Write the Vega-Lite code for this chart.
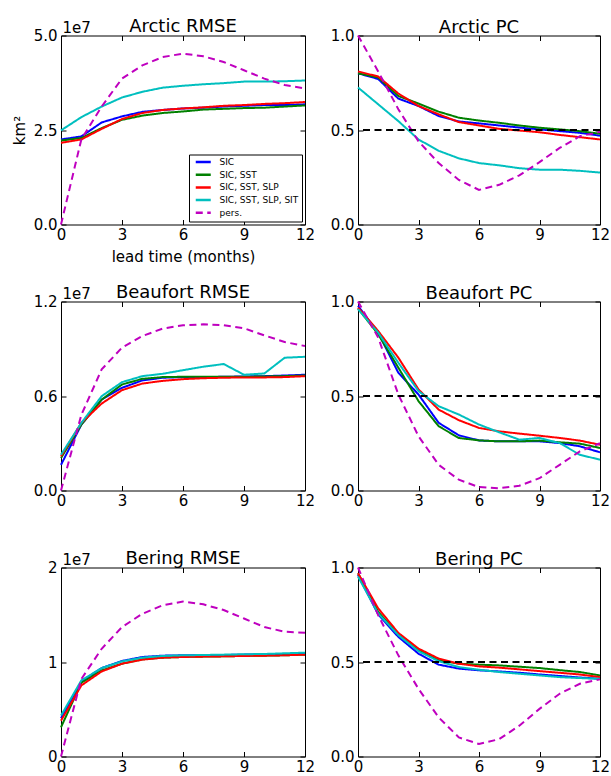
{
"$schema":"https://vega.github.io/schema/vega-lite/v6.json",
"background":"white",
"padding":{"left":12,"top":17.5,"right":5,"bottom":2},
"datasets":{
"ref":[{"level":0.5}],
"arctic_rmse":[
{"series":"SIC","lead":0,"value":2.25e7},{"series":"SIC","lead":1,"value":2.33e7},{"series":"SIC","lead":2,"value":2.70e7},{"series":"SIC","lead":3,"value":2.86e7},{"series":"SIC","lead":4,"value":2.98e7},{"series":"SIC","lead":5,"value":3.03e7},{"series":"SIC","lead":6,"value":3.07e7},{"series":"SIC","lead":7,"value":3.09e7},{"series":"SIC","lead":8,"value":3.12e7},{"series":"SIC","lead":9,"value":3.14e7},{"series":"SIC","lead":10,"value":3.16e7},{"series":"SIC","lead":11,"value":3.16e7},{"series":"SIC","lead":12,"value":3.18e7},
{"series":"SIC, SST","lead":0,"value":2.22e7},{"series":"SIC, SST","lead":1,"value":2.29e7},{"series":"SIC, SST","lead":2,"value":2.55e7},{"series":"SIC, SST","lead":3,"value":2.77e7},{"series":"SIC, SST","lead":4,"value":2.88e7},{"series":"SIC, SST","lead":5,"value":2.95e7},{"series":"SIC, SST","lead":6,"value":2.99e7},{"series":"SIC, SST","lead":7,"value":3.04e7},{"series":"SIC, SST","lead":8,"value":3.06e7},{"series":"SIC, SST","lead":9,"value":3.08e7},{"series":"SIC, SST","lead":10,"value":3.09e7},{"series":"SIC, SST","lead":11,"value":3.12e7},{"series":"SIC, SST","lead":12,"value":3.15e7},
{"series":"SIC, SST, SLP","lead":0,"value":2.16e7},{"series":"SIC, SST, SLP","lead":1,"value":2.25e7},{"series":"SIC, SST, SLP","lead":2,"value":2.53e7},{"series":"SIC, SST, SLP","lead":3,"value":2.79e7},{"series":"SIC, SST, SLP","lead":4,"value":2.95e7},{"series":"SIC, SST, SLP","lead":5,"value":3.03e7},{"series":"SIC, SST, SLP","lead":6,"value":3.07e7},{"series":"SIC, SST, SLP","lead":7,"value":3.10e7},{"series":"SIC, SST, SLP","lead":8,"value":3.14e7},{"series":"SIC, SST, SLP","lead":9,"value":3.16e7},{"series":"SIC, SST, SLP","lead":10,"value":3.19e7},{"series":"SIC, SST, SLP","lead":11,"value":3.21e7},{"series":"SIC, SST, SLP","lead":12,"value":3.24e7},
{"series":"SIC, SST, SLP, SIT","lead":0,"value":2.49e7},{"series":"SIC, SST, SLP, SIT","lead":1,"value":2.84e7},{"series":"SIC, SST, SLP, SIT","lead":2,"value":3.12e7},{"series":"SIC, SST, SLP, SIT","lead":3,"value":3.36e7},{"series":"SIC, SST, SLP, SIT","lead":4,"value":3.51e7},{"series":"SIC, SST, SLP, SIT","lead":5,"value":3.62e7},{"series":"SIC, SST, SLP, SIT","lead":6,"value":3.67e7},{"series":"SIC, SST, SLP, SIT","lead":7,"value":3.71e7},{"series":"SIC, SST, SLP, SIT","lead":8,"value":3.74e7},{"series":"SIC, SST, SLP, SIT","lead":9,"value":3.78e7},{"series":"SIC, SST, SLP, SIT","lead":10,"value":3.78e7},{"series":"SIC, SST, SLP, SIT","lead":11,"value":3.79e7},{"series":"SIC, SST, SLP, SIT","lead":12,"value":3.81e7},
{"series":"pers.","lead":0,"value":0},{"series":"pers.","lead":1,"value":2.25e7},{"series":"pers.","lead":2,"value":3.12e7},{"series":"pers.","lead":3,"value":3.86e7},{"series":"pers.","lead":4,"value":4.21e7},{"series":"pers.","lead":5,"value":4.43e7},{"series":"pers.","lead":6,"value":4.52e7},{"series":"pers.","lead":7,"value":4.45e7},{"series":"pers.","lead":8,"value":4.30e7},{"series":"pers.","lead":9,"value":4.08e7},{"series":"pers.","lead":10,"value":3.86e7},{"series":"pers.","lead":11,"value":3.69e7},{"series":"pers.","lead":12,"value":3.60e7}
],
"arctic_pc":[
{"series":"SIC","lead":0,"value":0.80},{"series":"SIC","lead":1,"value":0.77},{"series":"SIC","lead":2,"value":0.666},{"series":"SIC","lead":3,"value":0.627},{"series":"SIC","lead":4,"value":0.574},{"series":"SIC","lead":5,"value":0.545},{"series":"SIC","lead":6,"value":0.535},{"series":"SIC","lead":7,"value":0.524},{"series":"SIC","lead":8,"value":0.513},{"series":"SIC","lead":9,"value":0.503},{"series":"SIC","lead":10,"value":0.494},{"series":"SIC","lead":11,"value":0.485},{"series":"SIC","lead":12,"value":0.47},
{"series":"SIC, SST","lead":0,"value":0.80},{"series":"SIC, SST","lead":1,"value":0.778},{"series":"SIC, SST","lead":2,"value":0.68},{"series":"SIC, SST","lead":3,"value":0.64},{"series":"SIC, SST","lead":4,"value":0.597},{"series":"SIC, SST","lead":5,"value":0.565},{"series":"SIC, SST","lead":6,"value":0.55},{"series":"SIC, SST","lead":7,"value":0.538},{"series":"SIC, SST","lead":8,"value":0.524},{"series":"SIC, SST","lead":9,"value":0.512},{"series":"SIC, SST","lead":10,"value":0.503},{"series":"SIC, SST","lead":11,"value":0.494},{"series":"SIC, SST","lead":12,"value":0.48},
{"series":"SIC, SST, SLP","lead":0,"value":0.81},{"series":"SIC, SST, SLP","lead":1,"value":0.783},{"series":"SIC, SST, SLP","lead":2,"value":0.693},{"series":"SIC, SST, SLP","lead":3,"value":0.627},{"series":"SIC, SST, SLP","lead":4,"value":0.583},{"series":"SIC, SST, SLP","lead":5,"value":0.542},{"series":"SIC, SST, SLP","lead":6,"value":0.524},{"series":"SIC, SST, SLP","lead":7,"value":0.506},{"series":"SIC, SST, SLP","lead":8,"value":0.497},{"series":"SIC, SST, SLP","lead":9,"value":0.488},{"series":"SIC, SST, SLP","lead":10,"value":0.474},{"series":"SIC, SST, SLP","lead":11,"value":0.462},{"series":"SIC, SST, SLP","lead":12,"value":0.45},
{"series":"SIC, SST, SLP, SIT","lead":0,"value":0.725},{"series":"SIC, SST, SLP, SIT","lead":1,"value":0.636},{"series":"SIC, SST, SLP, SIT","lead":2,"value":0.547},{"series":"SIC, SST, SLP, SIT","lead":3,"value":0.45},{"series":"SIC, SST, SLP, SIT","lead":4,"value":0.39},{"series":"SIC, SST, SLP, SIT","lead":5,"value":0.35},{"series":"SIC, SST, SLP, SIT","lead":6,"value":0.325},{"series":"SIC, SST, SLP, SIT","lead":7,"value":0.313},{"series":"SIC, SST, SLP, SIT","lead":8,"value":0.298},{"series":"SIC, SST, SLP, SIT","lead":9,"value":0.29},{"series":"SIC, SST, SLP, SIT","lead":10,"value":0.29},{"series":"SIC, SST, SLP, SIT","lead":11,"value":0.284},{"series":"SIC, SST, SLP, SIT","lead":12,"value":0.275},
{"series":"pers.","lead":0,"value":1.0},{"series":"pers.","lead":1,"value":0.81},{"series":"pers.","lead":2,"value":0.61},{"series":"pers.","lead":3,"value":0.44},{"series":"pers.","lead":4,"value":0.325},{"series":"pers.","lead":5,"value":0.236},{"series":"pers.","lead":6,"value":0.183},{"series":"pers.","lead":7,"value":0.21},{"series":"pers.","lead":8,"value":0.26},{"series":"pers.","lead":9,"value":0.33},{"series":"pers.","lead":10,"value":0.405},{"series":"pers.","lead":11,"value":0.467},{"series":"pers.","lead":12,"value":0.49}
],
"beaufort_rmse":[
{"series":"SIC","lead":0,"value":1.63e6},{"series":"SIC","lead":1,"value":4.18e6},{"series":"SIC","lead":2,"value":5.77e6},{"series":"SIC","lead":3,"value":6.52e6},{"series":"SIC","lead":4,"value":6.99e6},{"series":"SIC","lead":5,"value":7.16e6},{"series":"SIC","lead":6,"value":7.20e6},{"series":"SIC","lead":7,"value":7.20e6},{"series":"SIC","lead":8,"value":7.22e6},{"series":"SIC","lead":9,"value":7.24e6},{"series":"SIC","lead":10,"value":7.26e6},{"series":"SIC","lead":11,"value":7.30e6},{"series":"SIC","lead":12,"value":7.35e6},
{"series":"SIC, SST","lead":0,"value":2.06e6},{"series":"SIC, SST","lead":1,"value":4.18e6},{"series":"SIC, SST","lead":2,"value":5.77e6},{"series":"SIC, SST","lead":3,"value":6.73e6},{"series":"SIC, SST","lead":4,"value":7.09e6},{"series":"SIC, SST","lead":5,"value":7.20e6},{"series":"SIC, SST","lead":6,"value":7.22e6},{"series":"SIC, SST","lead":7,"value":7.22e6},{"series":"SIC, SST","lead":8,"value":7.22e6},{"series":"SIC, SST","lead":9,"value":7.22e6},{"series":"SIC, SST","lead":10,"value":7.24e6},{"series":"SIC, SST","lead":11,"value":7.26e6},{"series":"SIC, SST","lead":12,"value":7.30e6},
{"series":"SIC, SST, SLP","lead":0,"value":2.17e6},{"series":"SIC, SST, SLP","lead":1,"value":4.29e6},{"series":"SIC, SST, SLP","lead":2,"value":5.52e6},{"series":"SIC, SST, SLP","lead":3,"value":6.37e6},{"series":"SIC, SST, SLP","lead":4,"value":6.79e6},{"series":"SIC, SST, SLP","lead":5,"value":6.96e6},{"series":"SIC, SST, SLP","lead":6,"value":7.07e6},{"series":"SIC, SST, SLP","lead":7,"value":7.13e6},{"series":"SIC, SST, SLP","lead":8,"value":7.16e6},{"series":"SIC, SST, SLP","lead":9,"value":7.18e6},{"series":"SIC, SST, SLP","lead":10,"value":7.18e6},{"series":"SIC, SST, SLP","lead":11,"value":7.20e6},{"series":"SIC, SST, SLP","lead":12,"value":7.26e6},
{"series":"SIC, SST, SLP, SIT","lead":0,"value":2.27e6},{"series":"SIC, SST, SLP, SIT","lead":1,"value":4.29e6},{"series":"SIC, SST, SLP, SIT","lead":2,"value":5.99e6},{"series":"SIC, SST, SLP, SIT","lead":3,"value":6.88e6},{"series":"SIC, SST, SLP, SIT","lead":4,"value":7.26e6},{"series":"SIC, SST, SLP, SIT","lead":5,"value":7.41e6},{"series":"SIC, SST, SLP, SIT","lead":6,"value":7.64e6},{"series":"SIC, SST, SLP, SIT","lead":7,"value":7.86e6},{"series":"SIC, SST, SLP, SIT","lead":8,"value":8.03e6},{"series":"SIC, SST, SLP, SIT","lead":9,"value":7.35e6},{"series":"SIC, SST, SLP, SIT","lead":10,"value":7.43e6},{"series":"SIC, SST, SLP, SIT","lead":11,"value":8.43e6},{"series":"SIC, SST, SLP, SIT","lead":12,"value":8.49e6},
{"series":"pers.","lead":0,"value":0},{"series":"pers.","lead":1,"value":4.8e6},{"series":"pers.","lead":2,"value":7.69e6},{"series":"pers.","lead":3,"value":9.07e6},{"series":"pers.","lead":4,"value":9.81e6},{"series":"pers.","lead":5,"value":10.28e6},{"series":"pers.","lead":6,"value":10.49e6},{"series":"pers.","lead":7,"value":10.55e6},{"series":"pers.","lead":8,"value":10.49e6},{"series":"pers.","lead":9,"value":10.30e6},{"series":"pers.","lead":10,"value":9.85e6},{"series":"pers.","lead":11,"value":9.43e6},{"series":"pers.","lead":12,"value":9.17e6}
],
"beaufort_pc":[
{"series":"SIC","lead":0,"value":0.977},{"series":"SIC","lead":1,"value":0.835},{"series":"SIC","lead":2,"value":0.623},{"series":"SIC","lead":3,"value":0.508},{"series":"SIC","lead":4,"value":0.358},{"series":"SIC","lead":5,"value":0.292},{"series":"SIC","lead":6,"value":0.265},{"series":"SIC","lead":7,"value":0.26},{"series":"SIC","lead":8,"value":0.26},{"series":"SIC","lead":9,"value":0.26},{"series":"SIC","lead":10,"value":0.251},{"series":"SIC","lead":11,"value":0.234},{"series":"SIC","lead":12,"value":0.202},
{"series":"SIC, SST","lead":0,"value":0.963},{"series":"SIC, SST","lead":1,"value":0.827},{"series":"SIC, SST","lead":2,"value":0.65},{"series":"SIC, SST","lead":3,"value":0.473},{"series":"SIC, SST","lead":4,"value":0.34},{"series":"SIC, SST","lead":5,"value":0.278},{"series":"SIC, SST","lead":6,"value":0.265},{"series":"SIC, SST","lead":7,"value":0.26},{"series":"SIC, SST","lead":8,"value":0.26},{"series":"SIC, SST","lead":9,"value":0.264},{"series":"SIC, SST","lead":10,"value":0.255},{"series":"SIC, SST","lead":11,"value":0.248},{"series":"SIC, SST","lead":12,"value":0.225},
{"series":"SIC, SST, SLP","lead":0,"value":0.968},{"series":"SIC, SST, SLP","lead":1,"value":0.844},{"series":"SIC, SST, SLP","lead":2,"value":0.703},{"series":"SIC, SST, SLP","lead":3,"value":0.535},{"series":"SIC, SST, SLP","lead":4,"value":0.428},{"series":"SIC, SST, SLP","lead":5,"value":0.372},{"series":"SIC, SST, SLP","lead":6,"value":0.331},{"series":"SIC, SST, SLP","lead":7,"value":0.313},{"series":"SIC, SST, SLP","lead":8,"value":0.301},{"series":"SIC, SST, SLP","lead":9,"value":0.29},{"series":"SIC, SST, SLP","lead":10,"value":0.278},{"series":"SIC, SST, SLP","lead":11,"value":0.264},{"series":"SIC, SST, SLP","lead":12,"value":0.242},
{"series":"SIC, SST, SLP, SIT","lead":0,"value":0.96},{"series":"SIC, SST, SLP, SIT","lead":1,"value":0.835},{"series":"SIC, SST, SLP, SIT","lead":2,"value":0.676},{"series":"SIC, SST, SLP, SIT","lead":3,"value":0.526},{"series":"SIC, SST, SLP, SIT","lead":4,"value":0.446},{"series":"SIC, SST, SLP, SIT","lead":5,"value":0.402},{"series":"SIC, SST, SLP, SIT","lead":6,"value":0.349},{"series":"SIC, SST, SLP, SIT","lead":7,"value":0.308},{"series":"SIC, SST, SLP, SIT","lead":8,"value":0.269},{"series":"SIC, SST, SLP, SIT","lead":9,"value":0.278},{"series":"SIC, SST, SLP, SIT","lead":10,"value":0.251},{"series":"SIC, SST, SLP, SIT","lead":11,"value":0.189},{"series":"SIC, SST, SLP, SIT","lead":12,"value":0.163},
{"series":"pers.","lead":0,"value":1.0},{"series":"pers.","lead":1,"value":0.81},{"series":"pers.","lead":2,"value":0.508},{"series":"pers.","lead":3,"value":0.287},{"series":"pers.","lead":4,"value":0.136},{"series":"pers.","lead":5,"value":0.057},{"series":"pers.","lead":6,"value":0.018},{"series":"pers.","lead":7,"value":0.012},{"series":"pers.","lead":8,"value":0.025},{"series":"pers.","lead":9,"value":0.065},{"series":"pers.","lead":10,"value":0.136},{"series":"pers.","lead":11,"value":0.207},{"series":"pers.","lead":12,"value":0.25}
],
"bering_rmse":[
{"series":"SIC","lead":0,"value":4.04e6},{"series":"SIC","lead":1,"value":7.94e6},{"series":"SIC","lead":2,"value":9.36e6},{"series":"SIC","lead":3,"value":10.11e6},{"series":"SIC","lead":4,"value":10.53e6},{"series":"SIC","lead":5,"value":10.67e6},{"series":"SIC","lead":6,"value":10.71e6},{"series":"SIC","lead":7,"value":10.71e6},{"series":"SIC","lead":8,"value":10.74e6},{"series":"SIC","lead":9,"value":10.78e6},{"series":"SIC","lead":10,"value":10.82e6},{"series":"SIC","lead":11,"value":10.85e6},{"series":"SIC","lead":12,"value":10.89e6},
{"series":"SIC, SST","lead":0,"value":3.09e6},{"series":"SIC, SST","lead":1,"value":7.80e6},{"series":"SIC, SST","lead":2,"value":9.11e6},{"series":"SIC, SST","lead":3,"value":9.82e6},{"series":"SIC, SST","lead":4,"value":10.28e6},{"series":"SIC, SST","lead":5,"value":10.46e6},{"series":"SIC, SST","lead":6,"value":10.53e6},{"series":"SIC, SST","lead":7,"value":10.57e6},{"series":"SIC, SST","lead":8,"value":10.60e6},{"series":"SIC, SST","lead":9,"value":10.64e6},{"series":"SIC, SST","lead":10,"value":10.67e6},{"series":"SIC, SST","lead":11,"value":10.71e6},{"series":"SIC, SST","lead":12,"value":10.78e6},
{"series":"SIC, SST, SLP","lead":0,"value":3.79e6},{"series":"SIC, SST, SLP","lead":1,"value":7.52e6},{"series":"SIC, SST, SLP","lead":2,"value":9.00e6},{"series":"SIC, SST, SLP","lead":3,"value":9.82e6},{"series":"SIC, SST, SLP","lead":4,"value":10.25e6},{"series":"SIC, SST, SLP","lead":5,"value":10.46e6},{"series":"SIC, SST, SLP","lead":6,"value":10.53e6},{"series":"SIC, SST, SLP","lead":7,"value":10.57e6},{"series":"SIC, SST, SLP","lead":8,"value":10.60e6},{"series":"SIC, SST, SLP","lead":9,"value":10.64e6},{"series":"SIC, SST, SLP","lead":10,"value":10.67e6},{"series":"SIC, SST, SLP","lead":11,"value":10.71e6},{"series":"SIC, SST, SLP","lead":12,"value":10.78e6},
{"series":"SIC, SST, SLP, SIT","lead":0,"value":4.33e6},{"series":"SIC, SST, SLP, SIT","lead":1,"value":8.05e6},{"series":"SIC, SST, SLP, SIT","lead":2,"value":9.36e6},{"series":"SIC, SST, SLP, SIT","lead":3,"value":10.07e6},{"series":"SIC, SST, SLP, SIT","lead":4,"value":10.46e6},{"series":"SIC, SST, SLP, SIT","lead":5,"value":10.64e6},{"series":"SIC, SST, SLP, SIT","lead":6,"value":10.71e6},{"series":"SIC, SST, SLP, SIT","lead":7,"value":10.74e6},{"series":"SIC, SST, SLP, SIT","lead":8,"value":10.78e6},{"series":"SIC, SST, SLP, SIT","lead":9,"value":10.82e6},{"series":"SIC, SST, SLP, SIT","lead":10,"value":10.85e6},{"series":"SIC, SST, SLP, SIT","lead":11,"value":10.92e6},{"series":"SIC, SST, SLP, SIT","lead":12,"value":10.99e6},
{"series":"pers.","lead":0,"value":0},{"series":"pers.","lead":1,"value":8.2e6},{"series":"pers.","lead":2,"value":11.4e6},{"series":"pers.","lead":3,"value":13.7e6},{"series":"pers.","lead":4,"value":15.1e6},{"series":"pers.","lead":5,"value":16.0e6},{"series":"pers.","lead":6,"value":16.4e6},{"series":"pers.","lead":7,"value":16.1e6},{"series":"pers.","lead":8,"value":15.5e6},{"series":"pers.","lead":9,"value":14.6e6},{"series":"pers.","lead":10,"value":13.7e6},{"series":"pers.","lead":11,"value":13.2e6},{"series":"pers.","lead":12,"value":13.1e6}
],
"bering_pc":[
{"series":"SIC","lead":0,"value":0.961},{"series":"SIC","lead":1,"value":0.752},{"series":"SIC","lead":2,"value":0.633},{"series":"SIC","lead":3,"value":0.544},{"series":"SIC","lead":4,"value":0.486},{"series":"SIC","lead":5,"value":0.465},{"series":"SIC","lead":6,"value":0.456},{"series":"SIC","lead":7,"value":0.45},{"series":"SIC","lead":8,"value":0.443},{"series":"SIC","lead":9,"value":0.434},{"series":"SIC","lead":10,"value":0.426},{"series":"SIC","lead":11,"value":0.418},{"series":"SIC","lead":12,"value":0.411},
{"series":"SIC, SST","lead":0,"value":0.97},{"series":"SIC, SST","lead":1,"value":0.766},{"series":"SIC, SST","lead":2,"value":0.645},{"series":"SIC, SST","lead":3,"value":0.562},{"series":"SIC, SST","lead":4,"value":0.509},{"series":"SIC, SST","lead":5,"value":0.491},{"series":"SIC, SST","lead":6,"value":0.486},{"series":"SIC, SST","lead":7,"value":0.482},{"series":"SIC, SST","lead":8,"value":0.475},{"series":"SIC, SST","lead":9,"value":0.468},{"series":"SIC, SST","lead":10,"value":0.457},{"series":"SIC, SST","lead":11,"value":0.447},{"series":"SIC, SST","lead":12,"value":0.429},
{"series":"SIC, SST, SLP","lead":0,"value":0.97},{"series":"SIC, SST, SLP","lead":1,"value":0.784},{"series":"SIC, SST, SLP","lead":2,"value":0.654},{"series":"SIC, SST, SLP","lead":3,"value":0.571},{"series":"SIC, SST, SLP","lead":4,"value":0.518},{"series":"SIC, SST, SLP","lead":5,"value":0.491},{"series":"SIC, SST, SLP","lead":6,"value":0.477},{"series":"SIC, SST, SLP","lead":7,"value":0.47},{"series":"SIC, SST, SLP","lead":8,"value":0.461},{"series":"SIC, SST, SLP","lead":9,"value":0.452},{"series":"SIC, SST, SLP","lead":10,"value":0.443},{"series":"SIC, SST, SLP","lead":11,"value":0.434},{"series":"SIC, SST, SLP","lead":12,"value":0.42},
{"series":"SIC, SST, SLP, SIT","lead":0,"value":0.952},{"series":"SIC, SST, SLP, SIT","lead":1,"value":0.757},{"series":"SIC, SST, SLP, SIT","lead":2,"value":0.642},{"series":"SIC, SST, SLP, SIT","lead":3,"value":0.557},{"series":"SIC, SST, SLP, SIT","lead":4,"value":0.504},{"series":"SIC, SST, SLP, SIT","lead":5,"value":0.473},{"series":"SIC, SST, SLP, SIT","lead":6,"value":0.459},{"series":"SIC, SST, SLP, SIT","lead":7,"value":0.447},{"series":"SIC, SST, SLP, SIT","lead":8,"value":0.438},{"series":"SIC, SST, SLP, SIT","lead":9,"value":0.429},{"series":"SIC, SST, SLP, SIT","lead":10,"value":0.42},{"series":"SIC, SST, SLP, SIT","lead":11,"value":0.415},{"series":"SIC, SST, SLP, SIT","lead":12,"value":0.411},
{"series":"pers.","lead":0,"value":1.0},{"series":"pers.","lead":1,"value":0.748},{"series":"pers.","lead":2,"value":0.535},{"series":"pers.","lead":3,"value":0.358},{"series":"pers.","lead":4,"value":0.207},{"series":"pers.","lead":5,"value":0.101},{"series":"pers.","lead":6,"value":0.066},{"series":"pers.","lead":7,"value":0.092},{"series":"pers.","lead":8,"value":0.163},{"series":"pers.","lead":9,"value":0.252},{"series":"pers.","lead":10,"value":0.332},{"series":"pers.","lead":11,"value":0.385},{"series":"pers.","lead":12,"value":0.408}
]
},
"columns":2,
"bounds":"flush",
"spacing":{"row":77,"column":53},
"resolve":{"scale":{"color":"independent","strokeDash":"independent"},"legend":{"color":"independent","strokeDash":"independent"}},
"concat":[
{"width":244,"height":189,"title":{"text":"Arctic RMSE","offset":-15},"data":{"name":"arctic_rmse"},
 "layer":[
 {"transform":[{"filter":"datum.series != 'pers.'"}],"mark":{"type":"line","strokeWidth":2},
  "encoding":{
  "x":{"field":"lead","type":"quantitative","scale":{"domain":[0,12],"nice":false},"axis":{"orient":"bottom","values":[0,3,6,9,12],"title":"lead time (months)","titlePadding":7}},
  "y":{"field":"value","type":"quantitative","scale":{"domain":[0,5e7],"nice":false},"axis":{"orient":"left","values":[0,2.5e7,5e7],"labelExpr":"format(datum.value/1e7,'.1f')","title":"km²","titlePadding":6}},
  "color":{"field":"series","type":"nominal","scale":{"domain":["SIC","SIC, SST","SIC, SST, SLP","SIC, SST, SLP, SIT","pers."],"range":["#0000ff","#008000","#ff0000","#00bfbf","#bf00bf"]}},
  "strokeDash":{"field":"series","type":"nominal","scale":{"domain":["SIC","SIC, SST","SIC, SST, SLP","SIC, SST, SLP, SIT","pers."],"range":[[1,0],[1,0],[1,0],[1,0],[7,4.5]]}}}},
 {"transform":[{"filter":"datum.series == 'pers.'"}],"mark":{"type":"line","strokeWidth":2},
  "encoding":{
  "x":{"field":"lead","type":"quantitative","axis":{"orient":"top","values":[0,3,6,9,12],"labels":false,"title":"1e7","titleX":1,"titleY":-3,"titleAlign":"left","titleBaseline":"alphabetic","titleAngle":0}},
  "y":{"field":"value","type":"quantitative","axis":{"orient":"right","values":[0,2.5e7,5e7],"labels":false,"title":null}},
  "color":{"field":"series","type":"nominal"},
  "strokeDash":{"field":"series","type":"nominal"}}}
 ],
 "resolve":{"axis":{"x":"independent","y":"independent"}}},
{"width":242,"height":189,"title":{"text":"Arctic PC","offset":-8},"data":{"name":"arctic_pc"},
 "layer":[
 {"transform":[{"filter":"datum.series != 'pers.'"}],"mark":{"type":"line","strokeWidth":2},
  "encoding":{
  "x":{"field":"lead","type":"quantitative","scale":{"domain":[0,12],"nice":false},"axis":{"orient":"bottom","values":[0,3,6,9,12],"title":null}},
  "y":{"field":"value","type":"quantitative","scale":{"domain":[0,1],"nice":false},"axis":{"orient":"left","values":[0,0.5,1],"format":".1f","title":null}},
  "color":{"field":"series","type":"nominal","legend":null,"scale":{"domain":["SIC","SIC, SST","SIC, SST, SLP","SIC, SST, SLP, SIT","pers."],"range":["#0000ff","#008000","#ff0000","#00bfbf","#bf00bf"]}},
  "strokeDash":{"field":"series","type":"nominal","legend":null,"scale":{"domain":["SIC","SIC, SST","SIC, SST, SLP","SIC, SST, SLP, SIT","pers."],"range":[[1,0],[1,0],[1,0],[1,0],[7,4.5]]}}}},
 {"transform":[{"filter":"datum.series == 'pers.'"}],"mark":{"type":"line","strokeWidth":2},
  "encoding":{
  "x":{"field":"lead","type":"quantitative","axis":{"orient":"top","values":[0,3,6,9,12],"labels":false,"title":null}},
  "y":{"field":"value","type":"quantitative","axis":{"orient":"right","values":[0,0.5,1],"labels":false,"title":null}},
  "color":{"field":"series","type":"nominal","legend":null},
  "strokeDash":{"field":"series","type":"nominal","legend":null}}},
 {"data":{"name":"ref"},"mark":{"type":"rule","color":"black","strokeWidth":2,"strokeDash":[7,4.5]},
  "encoding":{"y":{"field":"level","type":"quantitative","axis":null}}}
 ],
 "resolve":{"axis":{"x":"independent","y":"independent"}}},
{"width":244,"height":189,"title":{"text":"Beaufort RMSE","offset":-15},"data":{"name":"beaufort_rmse"},
 "layer":[
 {"transform":[{"filter":"datum.series != 'pers.'"}],"mark":{"type":"line","strokeWidth":2},
  "encoding":{
  "x":{"field":"lead","type":"quantitative","scale":{"domain":[0,12],"nice":false},"axis":{"orient":"bottom","values":[0,3,6,9,12],"title":null}},
  "y":{"field":"value","type":"quantitative","scale":{"domain":[0,1.2e7],"nice":false},"axis":{"orient":"left","values":[0,6e6,1.2e7],"labelExpr":"format(datum.value/1e7,'.1f')","title":null}},
  "color":{"field":"series","type":"nominal","legend":null,"scale":{"domain":["SIC","SIC, SST","SIC, SST, SLP","SIC, SST, SLP, SIT","pers."],"range":["#0000ff","#008000","#ff0000","#00bfbf","#bf00bf"]}},
  "strokeDash":{"field":"series","type":"nominal","legend":null,"scale":{"domain":["SIC","SIC, SST","SIC, SST, SLP","SIC, SST, SLP, SIT","pers."],"range":[[1,0],[1,0],[1,0],[1,0],[7,4.5]]}}}},
 {"transform":[{"filter":"datum.series == 'pers.'"}],"mark":{"type":"line","strokeWidth":2},
  "encoding":{
  "x":{"field":"lead","type":"quantitative","axis":{"orient":"top","values":[0,3,6,9,12],"labels":false,"title":"1e7","titleX":1,"titleY":-3,"titleAlign":"left","titleBaseline":"alphabetic","titleAngle":0}},
  "y":{"field":"value","type":"quantitative","axis":{"orient":"right","values":[0,6e6,1.2e7],"labels":false,"title":null}},
  "color":{"field":"series","type":"nominal","legend":null},
  "strokeDash":{"field":"series","type":"nominal","legend":null}}}
 ],
 "resolve":{"axis":{"x":"independent","y":"independent"}}},
{"width":242,"height":189,"title":{"text":"Beaufort PC","offset":-8},"data":{"name":"beaufort_pc"},
 "layer":[
 {"transform":[{"filter":"datum.series != 'pers.'"}],"mark":{"type":"line","strokeWidth":2},
  "encoding":{
  "x":{"field":"lead","type":"quantitative","scale":{"domain":[0,12],"nice":false},"axis":{"orient":"bottom","values":[0,3,6,9,12],"title":null}},
  "y":{"field":"value","type":"quantitative","scale":{"domain":[0,1],"nice":false},"axis":{"orient":"left","values":[0,0.5,1],"format":".1f","title":null}},
  "color":{"field":"series","type":"nominal","legend":null,"scale":{"domain":["SIC","SIC, SST","SIC, SST, SLP","SIC, SST, SLP, SIT","pers."],"range":["#0000ff","#008000","#ff0000","#00bfbf","#bf00bf"]}},
  "strokeDash":{"field":"series","type":"nominal","legend":null,"scale":{"domain":["SIC","SIC, SST","SIC, SST, SLP","SIC, SST, SLP, SIT","pers."],"range":[[1,0],[1,0],[1,0],[1,0],[7,4.5]]}}}},
 {"transform":[{"filter":"datum.series == 'pers.'"}],"mark":{"type":"line","strokeWidth":2},
  "encoding":{
  "x":{"field":"lead","type":"quantitative","axis":{"orient":"top","values":[0,3,6,9,12],"labels":false,"title":null}},
  "y":{"field":"value","type":"quantitative","axis":{"orient":"right","values":[0,0.5,1],"labels":false,"title":null}},
  "color":{"field":"series","type":"nominal","legend":null},
  "strokeDash":{"field":"series","type":"nominal","legend":null}}},
 {"data":{"name":"ref"},"mark":{"type":"rule","color":"black","strokeWidth":2,"strokeDash":[7,4.5]},
  "encoding":{"y":{"field":"level","type":"quantitative","axis":null}}}
 ],
 "resolve":{"axis":{"x":"independent","y":"independent"}}},
{"width":244,"height":189,"title":{"text":"Bering RMSE","offset":-15},"data":{"name":"bering_rmse"},
 "layer":[
 {"transform":[{"filter":"datum.series != 'pers.'"}],"mark":{"type":"line","strokeWidth":2},
  "encoding":{
  "x":{"field":"lead","type":"quantitative","scale":{"domain":[0,12],"nice":false},"axis":{"orient":"bottom","values":[0,3,6,9,12],"title":null}},
  "y":{"field":"value","type":"quantitative","scale":{"domain":[0,2e7],"nice":false},"axis":{"orient":"left","values":[0,1e7,2e7],"labelExpr":"format(datum.value/1e7,'d')","title":null}},
  "color":{"field":"series","type":"nominal","legend":null,"scale":{"domain":["SIC","SIC, SST","SIC, SST, SLP","SIC, SST, SLP, SIT","pers."],"range":["#0000ff","#008000","#ff0000","#00bfbf","#bf00bf"]}},
  "strokeDash":{"field":"series","type":"nominal","legend":null,"scale":{"domain":["SIC","SIC, SST","SIC, SST, SLP","SIC, SST, SLP, SIT","pers."],"range":[[1,0],[1,0],[1,0],[1,0],[7,4.5]]}}}},
 {"transform":[{"filter":"datum.series == 'pers.'"}],"mark":{"type":"line","strokeWidth":2},
  "encoding":{
  "x":{"field":"lead","type":"quantitative","axis":{"orient":"top","values":[0,3,6,9,12],"labels":false,"title":"1e7","titleX":1,"titleY":-3,"titleAlign":"left","titleBaseline":"alphabetic","titleAngle":0}},
  "y":{"field":"value","type":"quantitative","axis":{"orient":"right","values":[0,1e7,2e7],"labels":false,"title":null}},
  "color":{"field":"series","type":"nominal","legend":null},
  "strokeDash":{"field":"series","type":"nominal","legend":null}}}
 ],
 "resolve":{"axis":{"x":"independent","y":"independent"}}},
{"width":242,"height":189,"title":{"text":"Bering PC","offset":-8},"data":{"name":"bering_pc"},
 "layer":[
 {"transform":[{"filter":"datum.series != 'pers.'"}],"mark":{"type":"line","strokeWidth":2},
  "encoding":{
  "x":{"field":"lead","type":"quantitative","scale":{"domain":[0,12],"nice":false},"axis":{"orient":"bottom","values":[0,3,6,9,12],"title":null}},
  "y":{"field":"value","type":"quantitative","scale":{"domain":[0,1],"nice":false},"axis":{"orient":"left","values":[0,0.5,1],"format":".1f","title":null}},
  "color":{"field":"series","type":"nominal","legend":null,"scale":{"domain":["SIC","SIC, SST","SIC, SST, SLP","SIC, SST, SLP, SIT","pers."],"range":["#0000ff","#008000","#ff0000","#00bfbf","#bf00bf"]}},
  "strokeDash":{"field":"series","type":"nominal","legend":null,"scale":{"domain":["SIC","SIC, SST","SIC, SST, SLP","SIC, SST, SLP, SIT","pers."],"range":[[1,0],[1,0],[1,0],[1,0],[7,4.5]]}}}},
 {"transform":[{"filter":"datum.series == 'pers.'"}],"mark":{"type":"line","strokeWidth":2},
  "encoding":{
  "x":{"field":"lead","type":"quantitative","axis":{"orient":"top","values":[0,3,6,9,12],"labels":false,"title":null}},
  "y":{"field":"value","type":"quantitative","axis":{"orient":"right","values":[0,0.5,1],"labels":false,"title":null}},
  "color":{"field":"series","type":"nominal","legend":null},
  "strokeDash":{"field":"series","type":"nominal","legend":null}}},
 {"data":{"name":"ref"},"mark":{"type":"rule","color":"black","strokeWidth":2,"strokeDash":[7,4.5]},
  "encoding":{"y":{"field":"level","type":"quantitative","axis":null}}}
 ],
 "resolve":{"axis":{"x":"independent","y":"independent"}}}
],
"config":{
 "font":"DejaVu Sans",
 "view":{"stroke":null},
 "axis":{"domainColor":"black","domainWidth":1,"tickColor":"black","tickWidth":1,"tickSize":-5,"labelPadding":8,"labelFontSize":15,"labelColor":"black","labelFont":"DejaVu Sans","titleFont":"DejaVu Sans","titleFontSize":15,"titleFontWeight":"normal","titleColor":"black","grid":false,"labelFlush":false,"labelOverlap":false},
 "axisLeft":{"labelPadding":9},
 "title":{"font":"DejaVu Sans","fontSize":18,"fontWeight":"normal","color":"black","anchor":"middle"},
 "legend":{"orient":"bottom-right","offset":3,"title":null,"strokeColor":"black","fillColor":"white","padding":3,"cornerRadius":0,"symbolType":"M-3,0H3","symbolSize":25,"symbolStrokeWidth":2.5,"symbolOffset":6.75,"labelFont":"DejaVu Sans","labelFontSize":9,"labelColor":"black","labelOffset":11.75,"rowPadding":1.7}
}
}
